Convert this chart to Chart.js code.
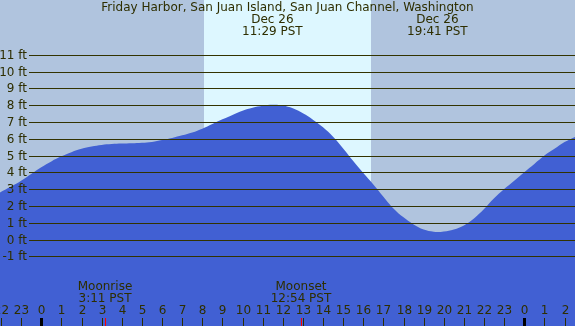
<!DOCTYPE html>
<html>
<head>
<meta charset="utf-8">
<script src="https://cdn.jsdelivr.net/npm/chart.js@4/dist/chart.umd.min.js"></script>
<style>
html,body{margin:0;padding:0;background:#b0c4de;overflow:hidden;}
#wrap{width:575px;height:326px;position:relative;}
</style>
</head>
<body>
<div id="wrap"><canvas id="c" width="575" height="326"></canvas></div>
<script>
// Tide data (hours relative to Dec 26 00:00 PST, height in ft)
const hours = [-2.05,-1.5,-1.0,-0.5,0,0.5,1,1.5,2,2.5,3,3.5,4,4.5,5,5.5,6,6.5,7,7.5,8,8.5,9,9.5,10,10.5,11,11.5,12,12.5,13,13.5,14,14.5,15,15.5,16,16.5,17,17.5,18,18.5,19,19.5,19.7,20,20.5,21,21.5,22,22.5,23,23.5,24,24.5,25,25.5,26,26.52];
const heights = [2.8,3.15,3.5,3.9,4.3,4.65,4.95,5.2,5.4,5.54,5.63,5.68,5.71,5.73,5.76,5.81,5.92,6.05,6.2,6.37,6.6,6.88,7.16,7.42,7.66,7.84,7.96,8.02,7.98,7.81,7.51,7.13,6.68,6.12,5.42,4.67,3.96,3.28,2.55,1.85,1.32,0.9,0.6,0.46,0.44,0.47,0.6,0.84,1.25,1.81,2.45,3.0,3.5,4.01,4.5,5.0,5.4,5.8,6.11];

const yTicks = [-1,0,1,2,3,4,5,6,7,8,9,10,11];
const yTickLabels = yTicks.map(v => v + " ft");
const xTickHours = [-2,-1,0,1,2,3,4,5,6,7,8,9,10,11,12,13,14,15,16,17,18,19,20,21,22,23,24,25,26];
const xTickLabels = ["22","23","0","1","2","3","4","5","6","7","8","9","10","11","12","13","14","15","16","17","18","19","20","21","22","23","0","1","2"];
const midnightHours = [0,24];

const title = "Friday Harbor, San Juan Island, San Juan Channel, Washington";
const tideEventHours = [11.483, 19.683];
const tideEventLabels = [["Dec 26","11:29 PST"],["Dec 26","19:41 PST"]];
const sunriseHour = 8.08, sunsetHour = 16.38;
const moonEventHours = [3.183, 12.9];
const moonEventLabels = [["Moonrise","3:11 PST"],["Moonset","12:54 PST"]];

const X_MIN = -2.05, X_MAX = 26.52, Y_MIN = -5.15, Y_MAX = 14.26;
const TEXT = "#2e2e00";
const FONT = "12px 'DejaVu Sans'";

const decor = {
  id: 'decor',
  beforeDraw(chart) {
    const {ctx, scales:{x}} = chart;
    ctx.save();
    ctx.fillStyle = "#b0c4de";
    ctx.fillRect(0,0,chart.width,chart.height);
    const a = Math.round(x.getPixelForValue(sunriseHour));
    const b = Math.round(x.getPixelForValue(sunsetHour));
    ctx.fillStyle = "#ddf7ff";
    ctx.fillRect(a,0,b-a,chart.height);
    ctx.restore();
  },
  afterDatasetsDraw(chart) {
    const {ctx, scales:{x,y}} = chart;
    ctx.save();
    // grid lines
    ctx.strokeStyle = "#333300";
    ctx.lineWidth = 1;
    yTicks.forEach(v => {
      const py = Math.round(y.getPixelForValue(v)) + 0.5;
      ctx.beginPath(); ctx.moveTo(29,py); ctx.lineTo(chart.width,py); ctx.stroke();
    });
    ctx.font = FONT;
    ctx.fillStyle = TEXT;
    ctx.textAlign = "right"; ctx.textBaseline = "middle";
    yTicks.forEach((v,i) => {
      ctx.fillText(yTickLabels[i], 27, Math.round(y.getPixelForValue(v)) + 0.5);
    });
    // x ticks
    ctx.textAlign = "center";
    xTickHours.forEach((h,i) => {
      const px = Math.round(x.getPixelForValue(h));
      ctx.fillText(xTickLabels[i], px + 0.5, 311);
      if (midnightHours.includes(h)) {
        ctx.fillStyle = "#000000";
        ctx.fillRect(px-1, 318, 3, 8);
        ctx.fillStyle = TEXT;
      } else {
        ctx.fillRect(px, 318, 1, 8);
      }
    });
    // moon events
    moonEventHours.forEach((h,i) => {
      const px = Math.round(x.getPixelForValue(h));
      ctx.fillStyle = "#ff0000";
      ctx.fillRect(px, 318, 1, 8);
      ctx.fillStyle = TEXT;
      ctx.fillText(moonEventLabels[i][0], px, 287);
      ctx.fillText(moonEventLabels[i][1], px, 299);
    });
    // title and tide events
    ctx.fillText(title, chart.width/2, 8);
    tideEventHours.forEach((h,i) => {
      const px = x.getPixelForValue(h);
      ctx.fillText(tideEventLabels[i][0], px, 20);
      ctx.fillText(tideEventLabels[i][1], px, 31.5);
    });
    ctx.restore();
  }
};

new Chart(document.getElementById('c'), {
  type: 'line',
  data: {
    datasets: [{
      data: hours.map((h,i) => ({x:h, y:heights[i]})),
      fill: 'start',
      backgroundColor: '#4160d3',
      borderWidth: 0,
      borderColor: 'rgba(0,0,0,0)',
      pointRadius: 0,
      tension: 0.4
    }]
  },
  options: {
    responsive: false,
    animation: false,
    layout: {padding: 0},
    plugins: {legend:{display:false}, tooltip:{enabled:false}, title:{display:false}},
    scales: {
      x: {type:'linear', min:X_MIN, max:X_MAX, display:false},
      y: {type:'linear', min:Y_MIN, max:Y_MAX, display:false}
    }
  },
  plugins: [decor]
});
</script>
</body>
</html>
